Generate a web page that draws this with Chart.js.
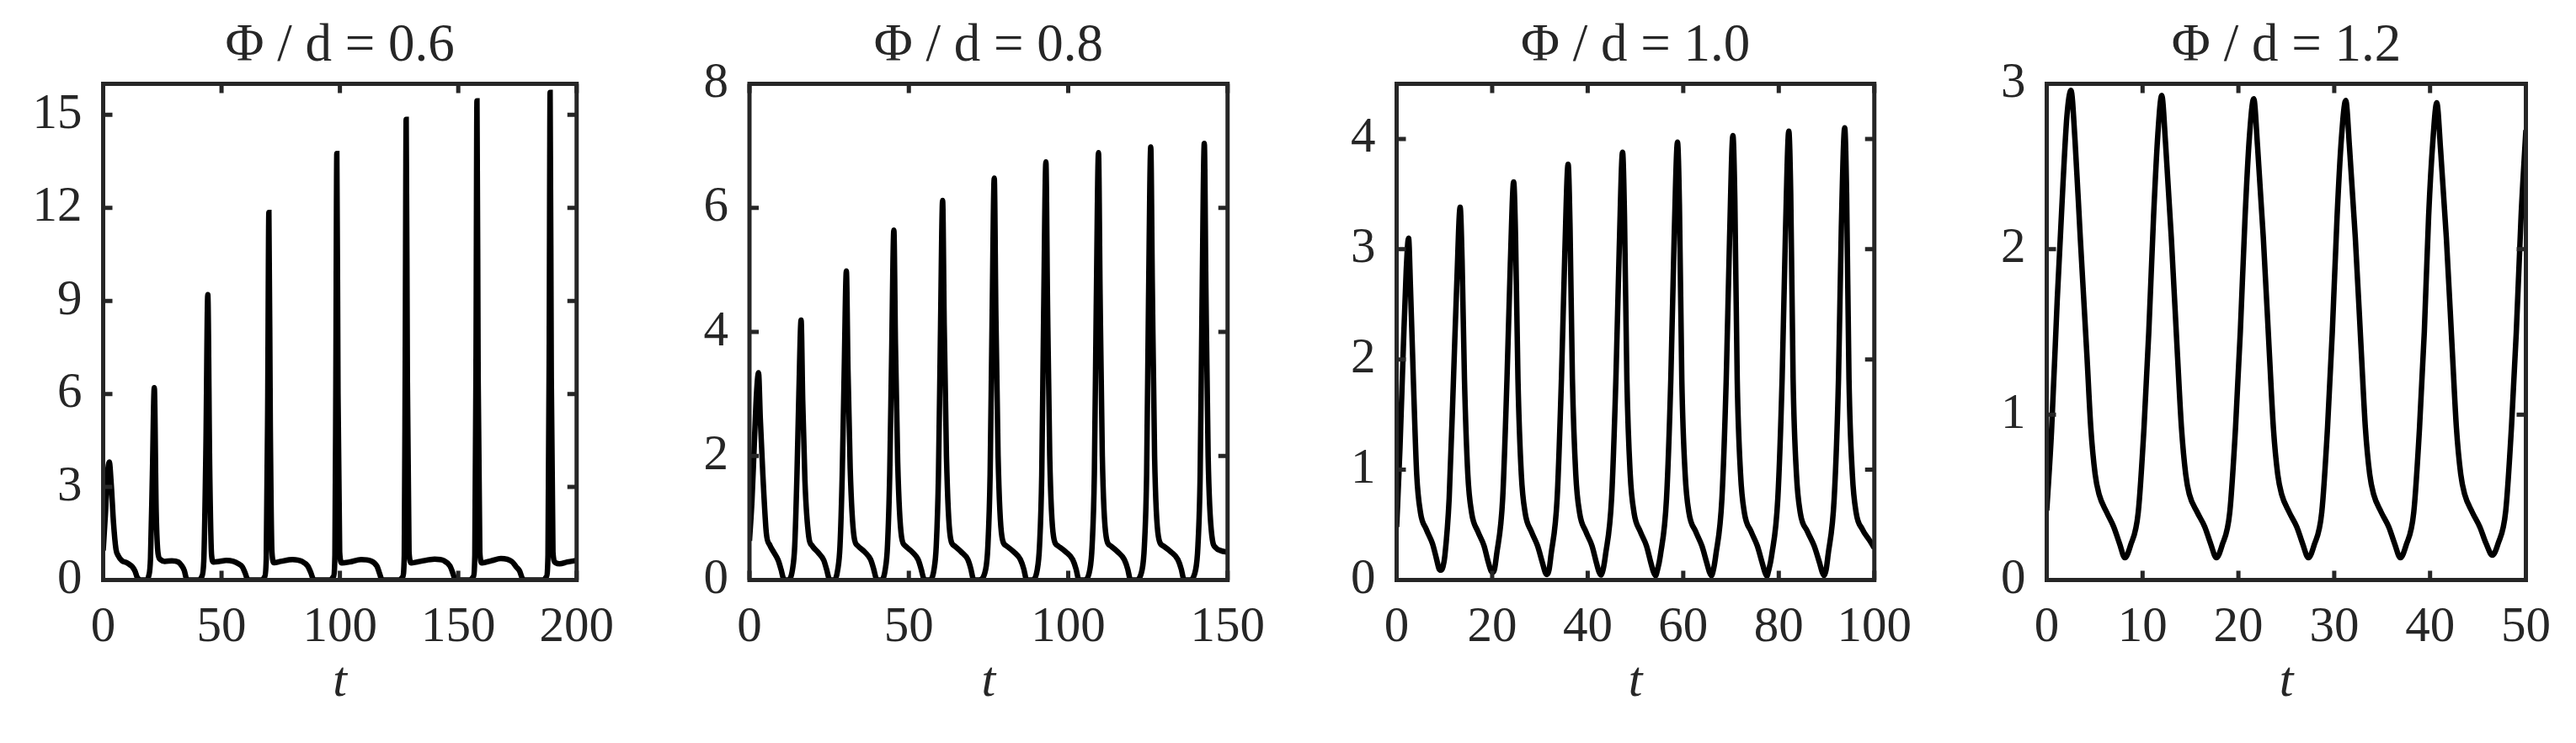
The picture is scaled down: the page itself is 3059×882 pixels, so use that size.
<!DOCTYPE html>
<html>
<head>
<meta charset="utf-8">
<script src="https://cdn.jsdelivr.net/npm/chart.js@4.4.1/dist/chart.umd.min.js"></script>
<style>
  html, body { margin: 0; padding: 0; background: #fff; }
  #wrap { position: relative; width: 3059px; height: 882px; overflow: hidden; background: #fff; }
  #wrap canvas { position: absolute; top: 0; }
</style>
</head>
<body>
<div id="wrap"></div>
<script>
// --- data ---
const titles = ['Φ / d = 0.6', 'Φ / d = 0.8', 'Φ / d = 1.0', 'Φ / d = 1.2'];
const xLabel = 't';

const xTicks06 = [0, 50, 100, 150, 200];
const yTicks06 = [0, 3, 6, 9, 12, 15];
const xTicks08 = [0, 50, 100, 150];
const yTicks08 = [0, 2, 4, 6, 8];
const xTicks10 = [0, 20, 40, 60, 80, 100];
const yTicks10 = [0, 1, 2, 3, 4];
const xTicks12 = [0, 10, 20, 30, 40, 50];
const yTicks12 = [0, 1, 2, 3];

// Φ/d = 0.6
const t06 = [
  0, 1.0, 1.8, 2.6, 3.4, 4.35, 5.4, 6.4, 8.0, 9.9, 11.5, 12.5, 13.5, 14.3, 15.3, 15.7,
  18.2, 19.2, 20.0, 20.8, 21.6, 22.4, 23.2, 24.2, 26.0, 29.0, 31.7, 33.2, 34.3, 35.0, 35.6,
  40.4, 41.6, 42.5, 43.4, 44.2, 45.0, 45.8, 46.6, 49.0, 52.0, 55.0, 57.0, 58.8, 60.0, 60.8, 61.4,
  67.0, 68.2, 68.9, 69.5, 70.0, 70.6, 71.3, 72.2, 75, 80, 84, 86.4, 87.8, 88.6, 89.2,
  96.0, 97.2, 97.9, 98.3, 98.7, 99.2, 99.9, 100.8, 104, 109, 113, 115.6, 116.8, 117.5, 118.0,
  125.3, 126.5, 127.2, 127.6, 128.0, 128.5, 129.2, 130.2, 134, 140, 144, 146.5, 147.8, 148.5, 149.0,
  155.0, 156.3, 157.0, 157.5, 157.9, 158.4, 159.1, 160.0, 164, 168, 172.7, 174.5, 175.9, 176.9, 177.6,
  186.0, 187.2, 187.9, 188.4, 188.8, 189.3, 190.0, 191.0, 192.8, 196, 200
];
const v06 = [
  0.95, 2.2, 3.4, 3.8, 3.1, 1.87, 1.0, 0.78, 0.62, 0.56, 0.48, 0.41, 0.28, 0.1, 0.01, 0,
  0, 0.12, 0.7, 3.4, 6.2, 2.2, 0.85, 0.66, 0.6, 0.62, 0.58, 0.46, 0.3, 0.08, 0,
  0, 0.1, 0.6, 4.2, 9.2, 3.6, 0.8, 0.58, 0.6, 0.63, 0.6, 0.53, 0.42, 0.22, 0.05, 0,
  0, 0.1, 0.7, 5.5, 11.85, 5.0, 0.9, 0.56, 0.6, 0.66, 0.6, 0.45, 0.22, 0.05, 0,
  0, 0.1, 0.8, 6.5, 13.75, 6.0, 0.9, 0.55, 0.58, 0.66, 0.62, 0.45, 0.2, 0.04, 0,
  0, 0.1, 0.8, 7.0, 14.85, 6.5, 0.9, 0.55, 0.6, 0.67, 0.62, 0.45, 0.2, 0.04, 0,
  0, 0.1, 0.8, 7.0, 15.45, 6.5, 0.9, 0.55, 0.62, 0.69, 0.59, 0.42, 0.29, 0.08, 0,
  0, 0.1, 0.8, 7.0, 15.72, 6.5, 0.9, 0.56, 0.52, 0.58, 0.63
];

// Φ/d = 0.8
const t08 = [
  0, 0.8, 1.6, 2.2, 2.84, 3.4, 4.2, 5.3, 6.4, 7.6, 9.0, 9.9, 10.6, 11.2, 12.0,
  13.5, 14.2, 14.9, 15.5, 16.2, 16.7, 17.4, 18.6, 19.7, 21.6, 23.3, 24.2, 24.9, 25.5, 26.6,
  27.7, 28.4, 29.1, 29.7, 30.4, 30.9, 31.6, 32.8, 34.0, 36.2, 38.0, 39.0, 39.7, 40.3, 41.4,
  42.6, 43.3, 44.0, 44.6, 45.3, 45.8, 46.5, 47.7, 48.9, 51.1, 52.9, 53.9, 54.6, 55.2, 56.4,
  57.9, 58.6, 59.3, 59.9, 60.6, 61.1, 61.8, 63.0, 64.3, 66.5, 68.5, 69.5, 70.1, 70.7, 72.0,
  74.1, 74.8, 75.5, 76.1, 76.8, 77.3, 78.0, 79.2, 80.6, 83.0, 85.0, 86.1, 86.7, 87.3, 88.6,
  90.3, 91.0, 91.7, 92.3, 93.0, 93.5, 94.2, 95.4, 96.8, 99.3, 101.4, 102.5, 103.1, 103.7, 105.0,
  106.8, 107.5, 108.2, 108.8, 109.5, 110.0, 110.7, 111.9, 113.3, 115.6, 117.6, 118.7, 119.3, 119.9, 121.2,
  123.2, 123.9, 124.6, 125.2, 125.9, 126.4, 127.1, 128.3, 129.8, 132.3, 134.4, 135.5, 136.1, 136.7, 138.0,
  140.0, 140.7, 141.4, 142.0, 142.7, 143.2, 143.9, 145.1, 146.3, 148.0, 150
];
const v08 = [
  0.63, 1.3, 2.3, 3.0, 3.34, 2.6, 1.7, 0.75, 0.56, 0.45, 0.32, 0.17, 0.03, 0, 0,
  0.17, 0.55, 1.7, 3.0, 4.19, 2.9, 1.6, 0.7, 0.55, 0.44, 0.32, 0.17, 0.03, 0, 0,
  0.17, 0.55, 1.7, 3.3, 4.98, 3.4, 1.8, 0.7, 0.55, 0.45, 0.33, 0.17, 0.03, 0, 0,
  0.17, 0.55, 1.7, 3.6, 5.64, 3.8, 1.9, 0.7, 0.55, 0.45, 0.33, 0.17, 0.03, 0, 0,
  0.17, 0.55, 1.7, 3.9, 6.12, 4.1, 2.0, 0.7, 0.55, 0.45, 0.33, 0.17, 0.03, 0, 0,
  0.17, 0.55, 1.7, 4.1, 6.48, 4.3, 2.0, 0.7, 0.55, 0.45, 0.33, 0.17, 0.03, 0, 0,
  0.17, 0.55, 1.7, 4.3, 6.74, 4.5, 2.0, 0.7, 0.55, 0.45, 0.33, 0.17, 0.03, 0, 0,
  0.17, 0.55, 1.7, 4.4, 6.89, 4.6, 2.0, 0.7, 0.55, 0.45, 0.33, 0.17, 0.03, 0, 0,
  0.17, 0.55, 1.7, 4.5, 6.98, 4.7, 2.0, 0.7, 0.55, 0.45, 0.33, 0.17, 0.03, 0, 0,
  0.17, 0.55, 1.7, 4.5, 7.04, 4.7, 2.0, 0.7, 0.52, 0.47, 0.45
];

// Φ/d = 1.0
const t10 = [
  0, 0.7, 1.4, 2.0, 2.5, 2.9, 3.5, 4.2, 5.0, 6.2, 7.5, 8.3, 8.9, 9.25,
  9.7, 10.1, 11.0, 11.9, 12.6, 13.3, 13.7, 14.2, 14.9, 15.7, 17.0, 18.3, 19.2, 19.8, 20.1,
  20.5, 20.9, 22.2, 23.1, 23.8, 24.5, 24.9, 25.4, 26.1, 26.9, 28.2, 29.5, 30.5, 31.1, 31.5,
  31.9, 32.3, 33.6, 34.5, 35.2, 35.9, 36.3, 36.8, 37.5, 38.3, 39.6, 40.9, 41.8, 42.4, 42.8,
  43.2, 43.7, 45.0, 45.9, 46.6, 47.3, 47.7, 48.2, 48.9, 49.7, 51.0, 52.3, 53.2, 53.8, 54.2,
  54.6, 55.2, 56.5, 57.4, 58.1, 58.8, 59.2, 59.7, 60.4, 61.2, 62.6, 63.9, 64.9, 65.5, 65.9,
  66.3, 66.8, 68.1, 69.0, 69.7, 70.4, 70.8, 71.3, 72.0, 72.8, 74.2, 75.5, 76.5, 77.1, 77.5,
  77.9, 78.5, 79.8, 80.7, 81.4, 82.1, 82.5, 83.0, 83.7, 84.5, 86.0, 87.4, 88.5, 89.1, 89.5,
  89.9, 90.3, 91.6, 92.5, 93.1, 93.8, 94.2, 94.7, 95.4, 96.2, 97.5, 99.0, 100
];
const v10 = [
  0.48, 1.2, 2.1, 2.8, 3.1, 2.65, 1.82, 0.96, 0.61, 0.46, 0.33, 0.2, 0.1, 0.09,
  0.12, 0.22, 0.74, 1.82, 2.7, 3.38, 2.9, 1.82, 0.96, 0.61, 0.44, 0.31, 0.16, 0.08, 0.07,
  0.1, 0.22, 0.74, 1.82, 2.86, 3.61, 3.1, 1.82, 0.96, 0.61, 0.44, 0.31, 0.16, 0.07, 0.05,
  0.09, 0.22, 0.74, 1.82, 2.95, 3.77, 3.2, 1.82, 0.96, 0.61, 0.44, 0.31, 0.16, 0.07, 0.045,
  0.09, 0.22, 0.74, 1.82, 3.0, 3.88, 3.3, 1.82, 0.96, 0.61, 0.44, 0.31, 0.16, 0.07, 0.04,
  0.09, 0.22, 0.74, 1.82, 3.1, 3.97, 3.4, 1.82, 0.96, 0.61, 0.44, 0.31, 0.16, 0.07, 0.04,
  0.09, 0.22, 0.74, 1.82, 3.1, 4.03, 3.45, 1.82, 0.96, 0.61, 0.44, 0.31, 0.16, 0.07, 0.035,
  0.09, 0.22, 0.74, 1.82, 3.15, 4.07, 3.5, 1.82, 0.96, 0.61, 0.44, 0.31, 0.16, 0.07, 0.04,
  0.09, 0.22, 0.74, 1.82, 3.2, 4.1, 3.5, 1.82, 0.96, 0.61, 0.46, 0.36, 0.29
];

// Φ/d = 1.2
const t12 = [
  0, 0.5, 1.1, 1.7, 2.1, 2.53, 2.95, 3.5, 4.2, 4.6, 5.05, 5.45, 6.25, 7.0, 7.6, 8.15,
  8.75, 9.55, 10.15, 10.65, 11.15, 11.6, 12.0, 12.4, 13.0, 13.65, 14.06, 14.5, 14.87, 15.7, 16.5, 17.1, 17.7,
  18.3, 19.1, 19.7, 20.2, 20.7, 21.15, 21.6, 22.0, 22.6, 23.25, 23.65, 24.1, 24.5, 25.3, 26.1, 26.7, 27.3,
  27.9, 28.7, 29.3, 29.8, 30.3, 30.75, 31.2, 31.6, 32.2, 32.85, 33.25, 33.7, 34.1, 34.9, 35.7, 36.3, 36.9,
  37.5, 38.3, 38.9, 39.4, 39.85, 40.3, 40.7, 41.1, 41.7, 42.35, 42.75, 43.2, 43.6, 44.4, 45.2, 45.85, 46.5,
  47.1, 47.9, 48.5, 49.0, 49.5, 50
];
const v12 = [
  0.42, 0.9, 1.7, 2.4, 2.8, 2.96, 2.66, 2.07, 1.35, 0.92, 0.64, 0.52, 0.41, 0.32, 0.22, 0.135,
  0.21, 0.41, 0.92, 1.5, 2.2, 2.7, 2.93, 2.64, 2.07, 1.35, 0.92, 0.64, 0.52, 0.41, 0.32, 0.22, 0.135,
  0.21, 0.41, 0.92, 1.5, 2.2, 2.68, 2.91, 2.62, 2.07, 1.35, 0.92, 0.64, 0.52, 0.41, 0.32, 0.22, 0.135,
  0.21, 0.41, 0.92, 1.5, 2.2, 2.67, 2.9, 2.61, 2.07, 1.35, 0.92, 0.64, 0.52, 0.41, 0.32, 0.22, 0.135,
  0.21, 0.41, 0.92, 1.5, 2.2, 2.66, 2.885, 2.6, 2.07, 1.35, 0.92, 0.64, 0.52, 0.41, 0.32, 0.22, 0.15,
  0.22, 0.42, 0.93, 1.5, 2.2, 2.72
];

// --- layout / style ---
const INK = '#262626';
const SERIF = '"Liberation Serif", "Times New Roman", Times, serif';
const PLOT_TOP = 99.5;
const PLOT_BOTTOM = 688.5;
const CANVAS_H = 882;
const Y_AXIS_W = 110;
const PAD_R = 60;

const panels = [
  { title: titles[0], t: t06, v: v06, xMax: 200, yMax: 16, xTicks: xTicks06, yTicks: yTicks06, left: 122.5, right: 690.5 },
  { title: titles[1], t: t08, v: v08, xMax: 150, yMax: 8, xTicks: xTicks08, yTicks: yTicks08, left: 890, right: 1464 },
  { title: titles[2], t: t10, v: v10, xMax: 100, yMax: 4.5, xTicks: xTicks10, yTicks: yTicks10, left: 1658.5, right: 2231.5 },
  { title: titles[3], t: t12, v: v12, xMax: 50, yMax: 3, xTicks: xTicks12, yTicks: yTicks12, left: 2430.5, right: 2999.5 }
];

// box round the plot area + inward ticks on all four sides
const boxPlugin = {
  id: 'matlabBox',
  afterDatasetsDraw(chart) {
    const { ctx, chartArea: a, scales: { x, y } } = chart;
    const len = 11;
    ctx.save();
    ctx.strokeStyle = INK;
    ctx.lineWidth = 5;
    ctx.beginPath();
    x.ticks.forEach(tk => {
      const px = x.getPixelForValue(tk.value);
      ctx.moveTo(px, a.bottom); ctx.lineTo(px, a.bottom - len);
      ctx.moveTo(px, a.top); ctx.lineTo(px, a.top + len);
    });
    y.ticks.forEach(tk => {
      const py = y.getPixelForValue(tk.value);
      ctx.moveTo(a.left, py); ctx.lineTo(a.left + len, py);
      ctx.moveTo(a.right, py); ctx.lineTo(a.right - len, py);
    });
    ctx.stroke();
    ctx.strokeRect(a.left, a.top, a.right - a.left, a.bottom - a.top);
    ctx.restore();
  }
};

const wrap = document.getElementById('wrap');

panels.forEach(p => {
  const canvasLeft = Math.floor(p.left - Y_AXIS_W);
  const yWidth = p.left - canvasLeft;
  const canvas = document.createElement('canvas');
  canvas.width = Math.ceil(yWidth + (p.right - p.left) + PAD_R);
  canvas.height = CANVAS_H;
  canvas.style.left = canvasLeft + 'px';
  canvas.style.width = canvas.width + 'px';
  canvas.style.height = CANVAS_H + 'px';
  wrap.appendChild(canvas);
  const padR = canvas.width - yWidth - (p.right - p.left);

  const titleSize = 63;
  const titleTop = 18;

  new Chart(canvas, {
    type: 'line',
    data: {
      datasets: [{
        data: p.t.map((t, i) => ({ x: t, y: p.v[i] })),
        borderColor: '#000',
        borderWidth: 6.5,
        pointRadius: 0,
        fill: false,
        cubicInterpolationMode: 'monotone'
      }]
    },
    options: {
      responsive: false,
      animation: false,
      events: [],
      layout: { padding: { left: 0, right: padR, top: 0, bottom: 0 } },
      plugins: {
        legend: { display: false },
        tooltip: { enabled: false },
        title: {
          display: true,
          fullSize: false,
          text: p.title,
          color: INK,
          font: { family: SERIF, size: titleSize, weight: 'normal', lineHeight: 1.2 },
          padding: { top: titleTop, bottom: PLOT_TOP - titleTop - titleSize * 1.2 }
        }
      },
      scales: {
        x: {
          type: 'linear',
          min: 0,
          max: p.xMax,
          afterBuildTicks: s => { s.ticks = p.xTicks.map(v => ({ value: v })); },
          afterFit: s => { s.height = CANVAS_H - PLOT_BOTTOM; },
          grid: { display: false, drawTicks: false, tickLength: 0 },
          border: { display: false },
          ticks: { color: INK, font: { family: SERIF, size: 59 }, padding: 22, maxRotation: 0, autoSkip: false },
          title: {
            display: true,
            text: xLabel,
            color: INK,
            font: { family: SERIF, size: 60, style: 'italic', lineHeight: 1.2 },
            padding: { top: 0, bottom: 36 }
          }
        },
        y: {
          type: 'linear',
          min: 0,
          max: p.yMax,
          afterBuildTicks: s => { s.ticks = p.yTicks.map(v => ({ value: v })); },
          afterFit: s => { s.width = yWidth; },
          grid: { display: false, drawTicks: false, tickLength: 0 },
          border: { display: false },
          ticks: { color: INK, font: { family: SERIF, size: 59 }, padding: 25, autoSkip: false }
        }
      }
    },
    plugins: [boxPlugin]
  });
});
</script>
</body>
</html>
